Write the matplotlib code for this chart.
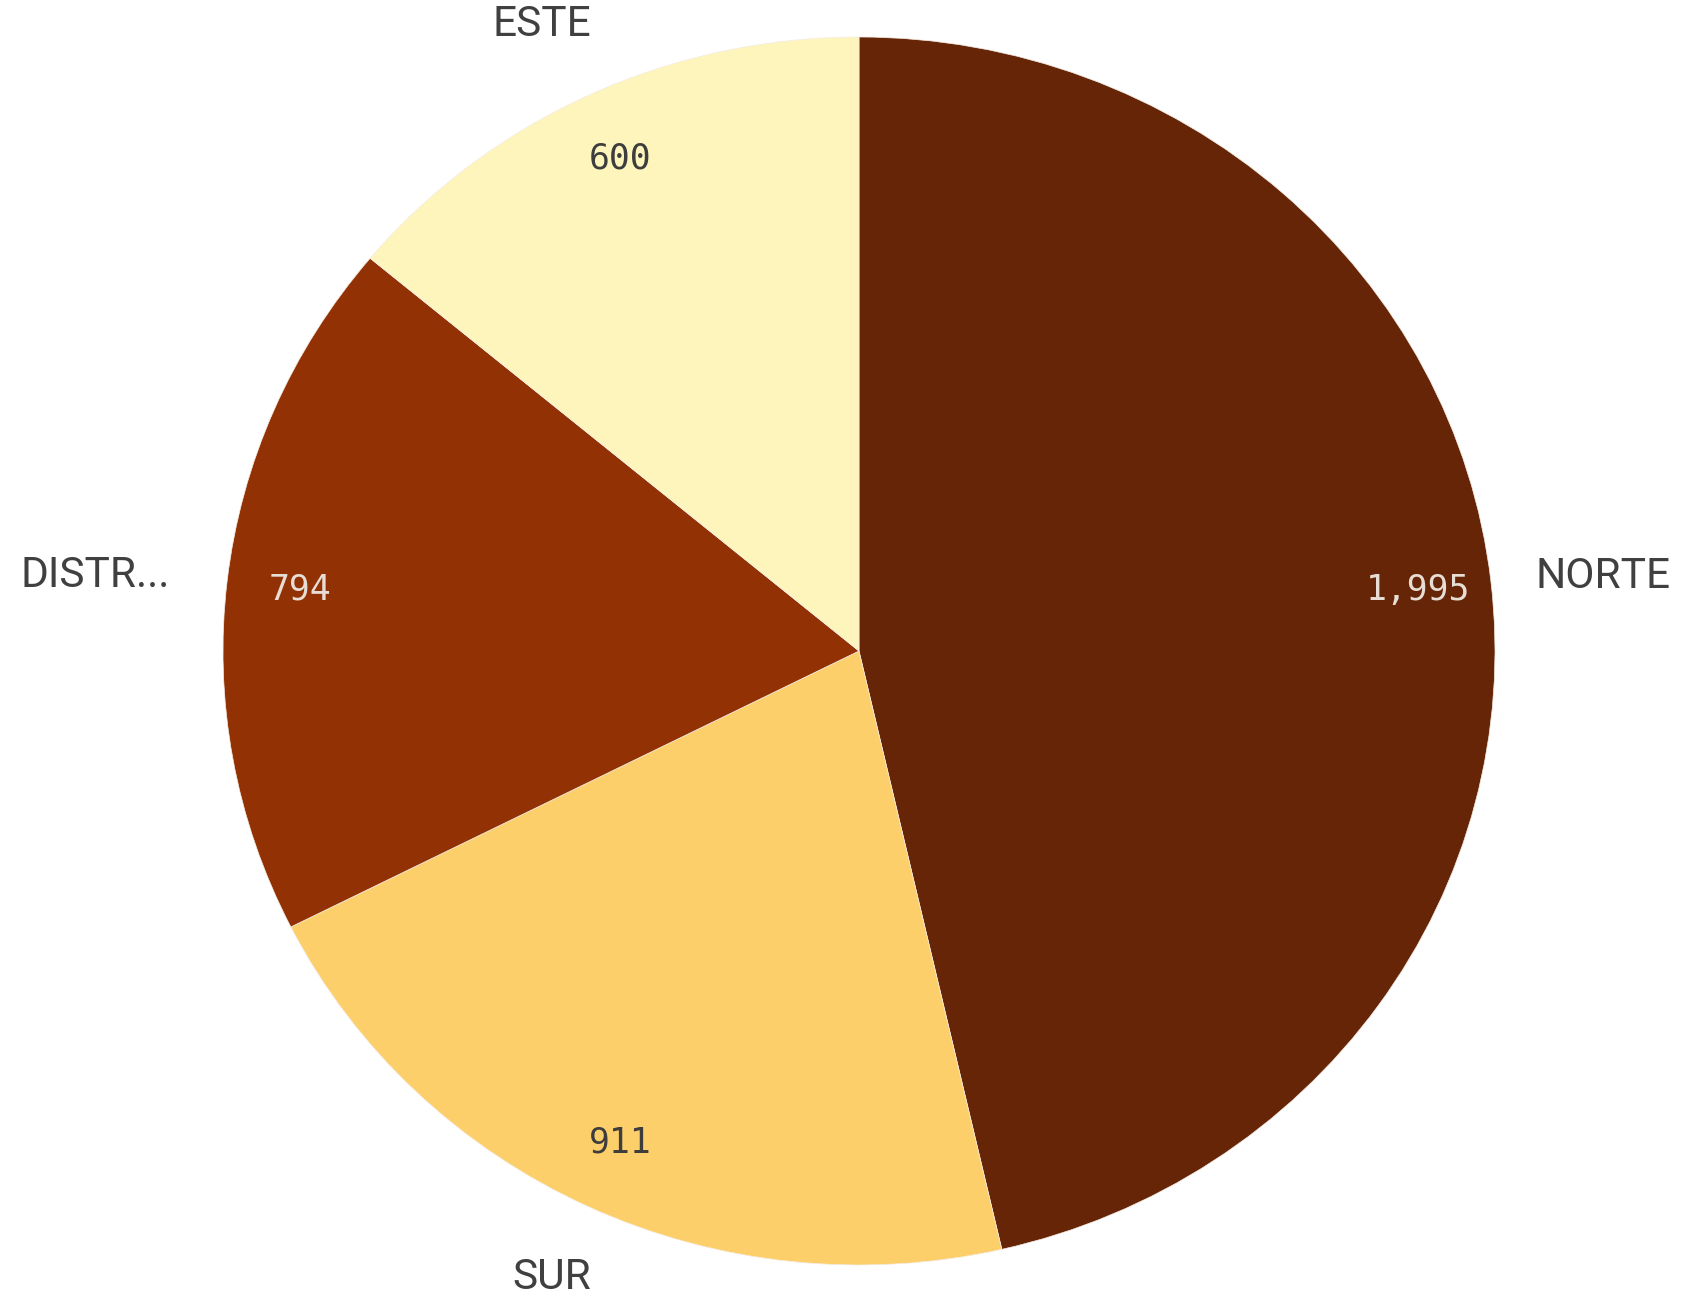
import numpy as np
import matplotlib
matplotlib.use('Agg')
import matplotlib.pyplot as plt

regions = ['NORTE', 'SUR', 'DISTR...', 'ESTE']
counts = [1995, 911, 794, 600]
colors = ['#662506', '#fdcf6a', '#923103', '#fef5bd']
value_colors = ['#e8ddd5', '#3d3d3d', '#e8ddd5', '#3d3d3d']

fig = plt.figure(figsize=(16.83, 12.95), dpi=100)
# pie is slightly wider than tall in the reference, so the axes are not square
ax = fig.add_axes([223 / 1683, 30 / 1295, 1272 / 1683, 1228 / 1295])

wedges, texts = ax.pie(counts, colors=colors, startangle=90, counterclock=False,
                       wedgeprops={'edgecolor': '#f4ece4', 'linewidth': 0.5},
                       labels=None)
ax.set_xlim(-1, 1)
ax.set_ylim(-1, 1)
ax.set_aspect('auto')
ax.axis('off')

for w, name, val, vc in zip(wedges, regions, counts, value_colors):
    mid = np.deg2rad((w.theta1 + w.theta2) / 2)
    c, s = np.cos(mid), np.sin(mid)
    # category label outside the pie
    if abs(c) > 0.6:
        dist = 1.07 if c > 0 else 1.09
        ax.text(dist * c, 1.075 * s, name, ha='left' if c > 0 else 'right',
                va='center', fontsize=30.5, color='#404040', family='Roboto')
    else:
        ax.text(0.99 * c, 1.09 * s, name, ha='right',
                va='bottom' if s > 0 else 'top', fontsize=30.5,
                color='#404040', family='Roboto')
    # value inside the slice
    ax.text(0.885 * c, 0.885 * s, f'{val:,}', ha='center', va='center',
            fontsize=25, color=vc, family='DejaVu Sans Mono')

fig.savefig('out.png', dpi=100, facecolor='white')
